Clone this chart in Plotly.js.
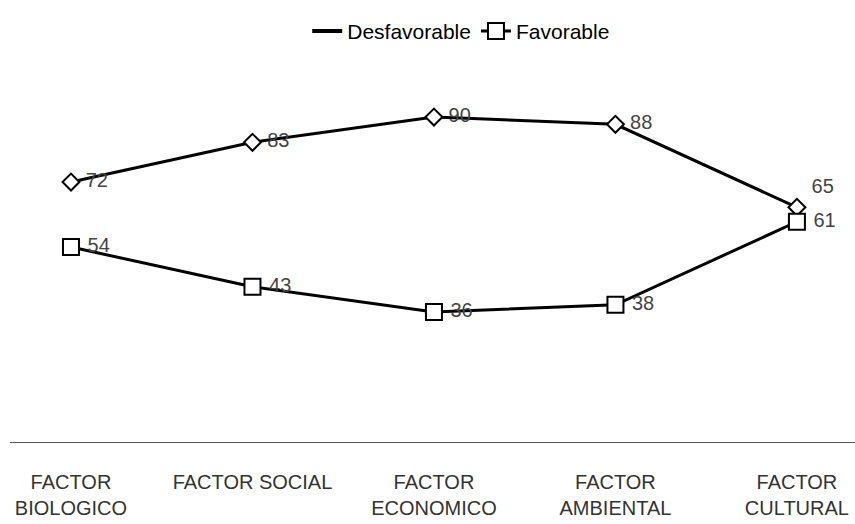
<!DOCTYPE html>
<html>
<head>
<meta charset="utf-8">
<script src="https://cdn.plot.ly/plotly-3.0.1.min.js"></script>
<style>html,body{margin:0;padding:0;background:#fff}#chart{width:855px;height:524px}</style>
</head>
<body>
<div id="chart"></div>
<script>
const categories = ["FACTOR<br>BIOLOGICO", "FACTOR SOCIAL", "FACTOR<br>ECONOMICO", "FACTOR<br>AMBIENTAL", "FACTOR<br>CULTURAL"];
const desfavorable = [72, 83, 90, 88, 65];
const favorable = [54, 43, 36, 38, 61];
const seriesNames = ["Desfavorable", "Favorable"];

const labelFont = {family: "Liberation Sans, Arial, sans-serif", size: 20, color: "#444"};
const desfPos = ["middle right", "middle right", "middle right", "middle right", "top right"];

const traces = [
  {
    x: categories, y: desfavorable, type: "scatter", mode: "lines+markers+text",
    name: seriesNames[0], showlegend: false,
    line: {color: "#000", width: 3},
    marker: {symbol: "diamond", size: 13, color: "#fff", line: {color: "#000", width: 2}},
    text: desfavorable.map(v => " " + v), textposition: desfPos, textfont: labelFont,
    cliponaxis: false
  },
  {
    x: [null], y: [null], type: "scatter", mode: "lines",
    name: seriesNames[0], line: {color: "#000", width: 4}, legendrank: 1
  },
  {
    x: categories, y: favorable, type: "scatter", mode: "lines+markers+text",
    name: seriesNames[1], legendrank: 2,
    line: {color: "#000", width: 3},
    marker: {symbol: "square", size: 16, color: "#fff", line: {color: "#000", width: 2}},
    text: favorable.map(v => " " + v), textposition: "middle right", textfont: labelFont,
    cliponaxis: false
  }
];

const layout = {
  width: 855, height: 524,
  margin: {l: 10, r: 0, t: 60, b: 82},
  paper_bgcolor: "#fff", plot_bgcolor: "#fff",
  showlegend: true,
  legend: {orientation: "h", x: 0.534, xanchor: "center", yref: "container", y: 0.94, yanchor: "middle",
           font: {family: "Liberation Sans, Arial, sans-serif", size: 21, color: "#000"}, itemwidth: 30},
  xaxis: {
    type: "category", range: [-0.336, 4.32],
    showgrid: false, zeroline: false,
    showline: true, linecolor: "#555", linewidth: 1,
    ticks: "outside", ticklen: 22, tickcolor: "rgba(0,0,0,0)",
    tickfont: {family: "Liberation Sans, Arial, sans-serif", size: 20, color: "#333"},
    fixedrange: true
  },
  yaxis: {range: [0, 105.8], visible: false, fixedrange: true}
};

Plotly.newPlot("chart", traces, layout, {displayModeBar: false, staticPlot: true});
</script>
</body>
</html>
